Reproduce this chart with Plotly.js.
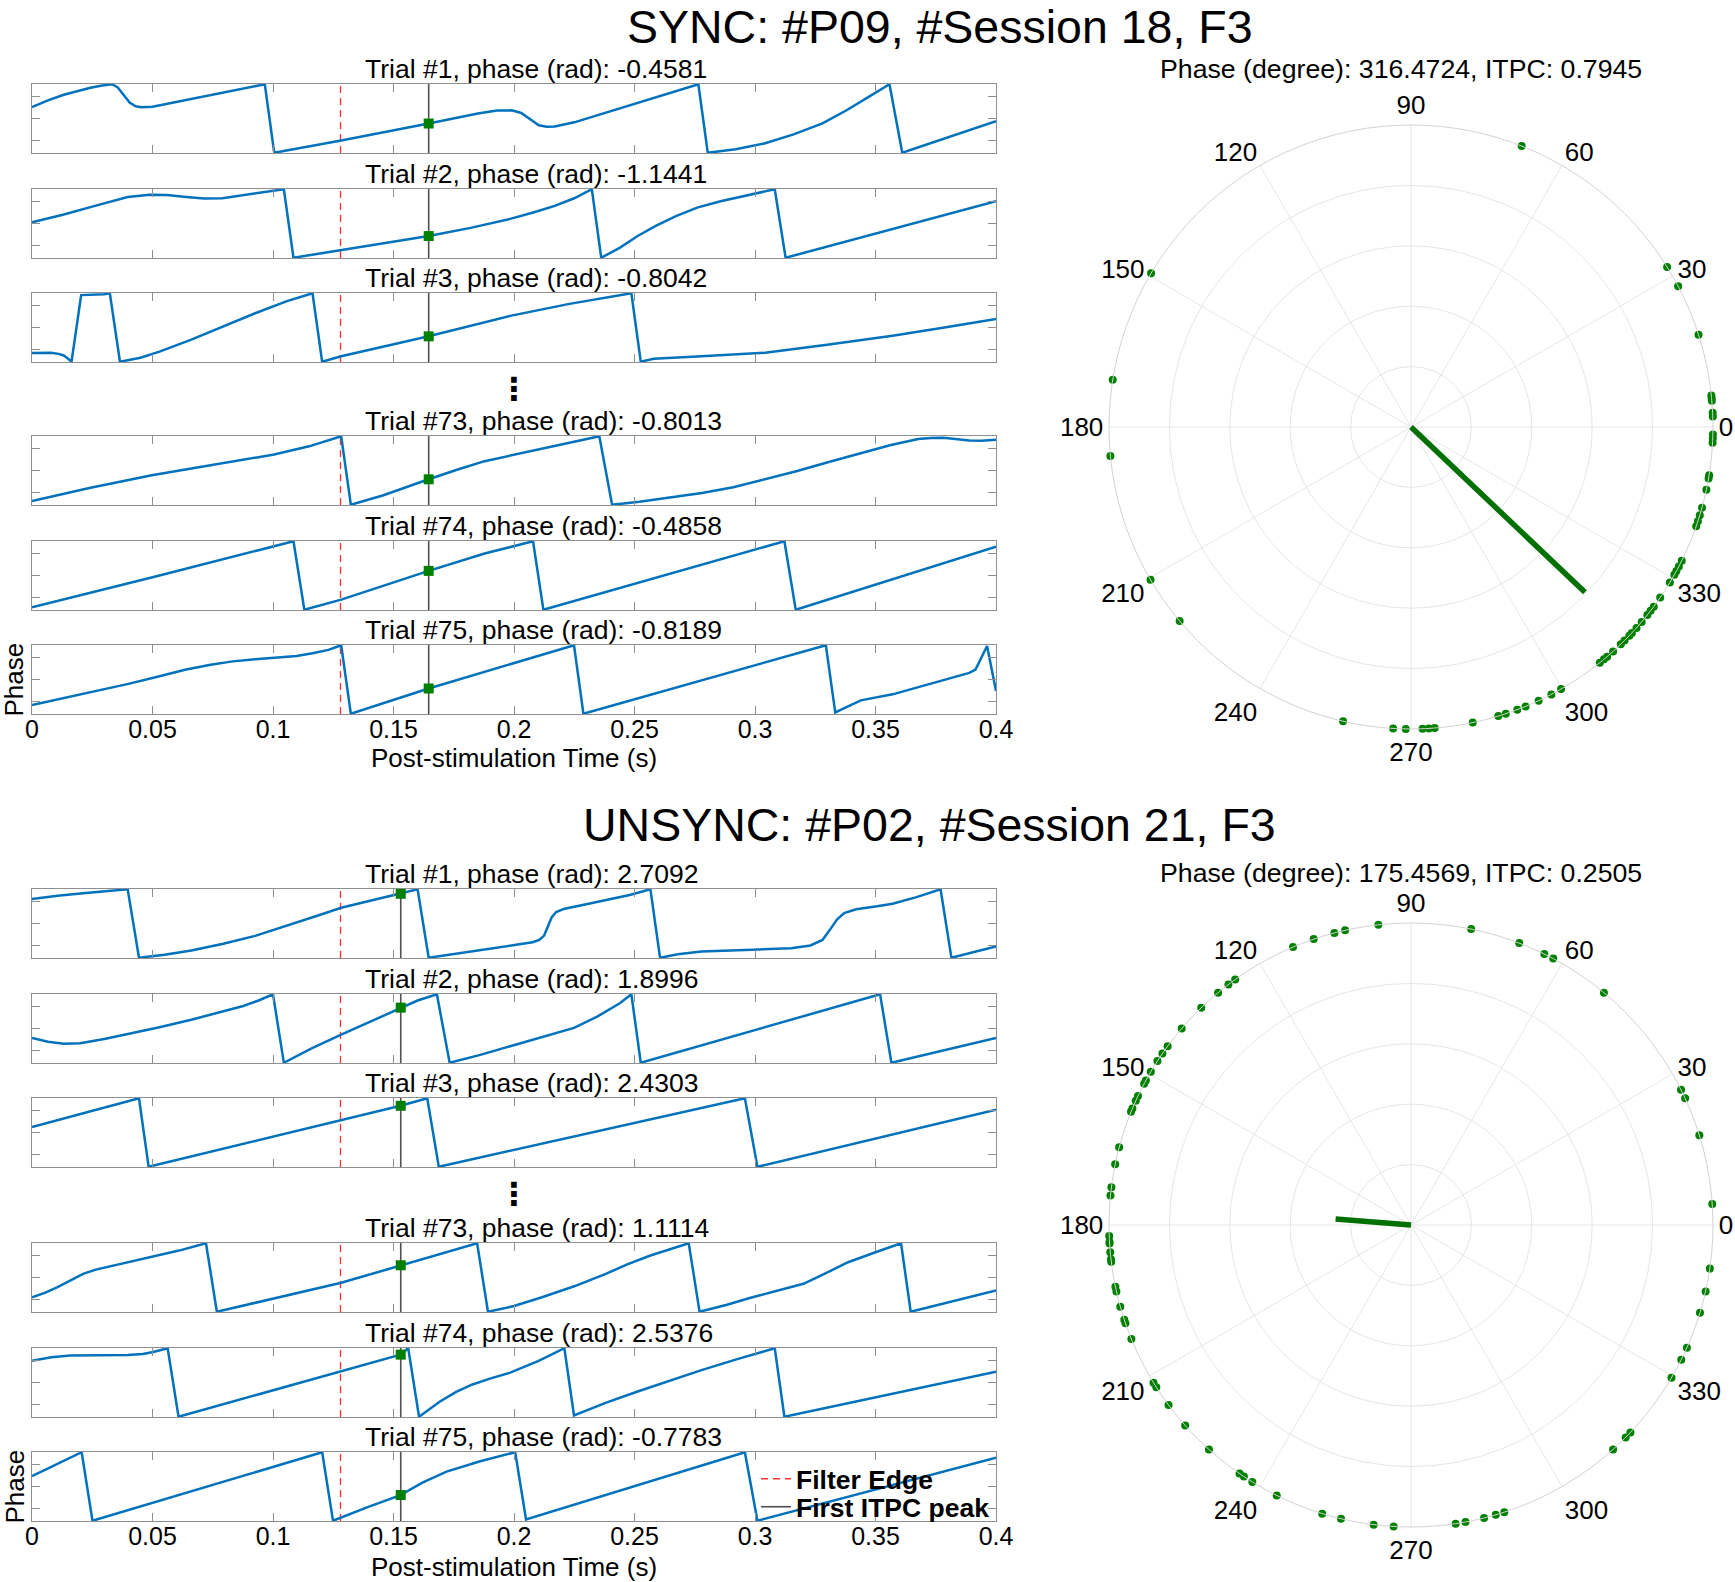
<!DOCTYPE html>
<html><head><meta charset="utf-8">
<script src="https://cdn.plot.ly/plotly-3.0.1.min.js"></script>
<style>html,body{margin:0;padding:0;background:#fff}#chart{width:1735px;height:1582px}</style>
</head><body><div id="chart"></div>
<script>
// ================= DATA =================
const sectionTitles = ["SYNC: #P09, #Session 18, F3", "UNSYNC: #P02, #Session 21, F3"];
const trialNumbers = ["1", "2", "3", "73", "74", "75"];
const syncTitlePhases = ["-0.4581", "-1.1441", "-0.8042", "-0.8013", "-0.4858", "-0.8189"];
const unsyncTitlePhases = ["2.7092", "1.8996", "2.4303", "1.1114", "2.5376", "-0.7783"];
const syncPolarTitle = "Phase (degree): 316.4724, ITPC: 0.7945";
const unsyncPolarTitle = "Phase (degree): 175.4569, ITPC: 0.2505";
const xAxisTitle = "Post-stimulation Time (s)";
const yAxisTitle = "Phase";
const legendNames = ["Filter Edge", "First ITPC peak"];

const syncFilterEdge = 0.128, syncItpcPeak = 0.1646;
const unsyncFilterEdge = 0.128, unsyncItpcPeak = 0.153;
const syncMarkerPhase = [-0.4581, -1.1441, -0.8042, -0.8013, 0.42, -0.8189];
const unsyncMarkerPhase = [2.7092, 1.8996, 2.4303, 1.1114, 2.5376, -0.7783];

// SYNC trials (time s, phase rad)
const sync1_t = [0, 0.0066, 0.0132, 0.019, 0.0238, 0.0285, 0.0331, 0.0355, 0.038, 0.0405, 0.043, 0.0455, 0.05, 0.0966, 0.1005, 0.1283, 0.1646, 0.185, 0.193, 0.199, 0.203, 0.207, 0.2103, 0.2135, 0.2169, 0.225, 0.2513, 0.2765, 0.2804, 0.292, 0.3042, 0.316, 0.328, 0.338, 0.347, 0.3558, 0.3611, 0.4];
const sync1_p = [1.03, 1.65, 2.16, 2.52, 2.78, 2.98, 3.12, 2.85, 2.2, 1.45, 1.12, 1.03, 1.08, 3.12, -3.12, -2.01, -0.46, 0.45, 0.72, 0.74, 0.5, -0.1, -0.62, -0.76, -0.72, -0.35, 1.41, 3.12, -3.12, -2.8, -2.25, -1.45, -0.45, 0.75, 1.95, 3.12, -3.12, -0.25];
const sync2_t = [0, 0.0132, 0.0265, 0.0397, 0.0489, 0.056, 0.064, 0.0714, 0.079, 0.0873, 0.096, 0.1045, 0.1085, 0.1283, 0.146, 0.1646, 0.182, 0.1984, 0.208, 0.2169, 0.225, 0.2323, 0.2362, 0.244, 0.2513, 0.259, 0.2672, 0.276, 0.2857, 0.297, 0.3082, 0.3127, 0.4];
const sync2_p = [0.12, 0.82, 1.63, 2.42, 2.62, 2.6, 2.42, 2.27, 2.3, 2.55, 2.85, 3.12, -3.12, -2.42, -1.85, -1.14, -0.4, 0.42, 1.0, 1.6, 2.3, 3.12, -3.12, -2.2, -1.14, -0.2, 0.67, 1.45, 2.02, 2.6, 3.12, -3.12, 2.02];
const sync3_t = [0, 0.004, 0.0079, 0.011, 0.0132, 0.015, 0.0164, 0.0204, 0.0265, 0.03, 0.0323, 0.0365, 0.045, 0.0529, 0.0661, 0.0794, 0.0926, 0.1058, 0.1164, 0.1204, 0.1283, 0.1646, 0.1984, 0.223, 0.2487, 0.2526, 0.258, 0.2778, 0.3042, 0.3307, 0.3571, 0.3786, 0.4];
const sync3_p = [-2.32, -2.28, -2.3, -2.4, -2.55, -2.85, -3.12, 2.95, 3.0, 3.02, 3.12, -3.12, -2.75, -2.2, -1.1, 0.1, 1.3, 2.4, 3.12, -3.12, -2.62, -0.8, 1.06, 2.15, 3.12, -3.12, -2.85, -2.62, -2.3, -1.55, -0.75, 0.0, 0.78];
const sync4_t = [0, 0.0238, 0.0497, 0.0767, 0.1, 0.115, 0.1283, 0.1323, 0.1455, 0.1646, 0.176, 0.1878, 0.2, 0.2116, 0.2235, 0.2354, 0.2407, 0.252, 0.2646, 0.278, 0.291, 0.304, 0.3175, 0.331, 0.3439, 0.356, 0.3677, 0.373, 0.3783, 0.384, 0.3889, 0.394, 0.4];
const sync4_p = [-2.79, -1.6, -0.43, 0.6, 1.44, 2.2, 3.12, -3.12, -2.28, -0.8, 0.05, 0.85, 1.45, 1.98, 2.55, 3.12, -3.12, -2.85, -2.49, -2.05, -1.53, -0.8, -0.04, 0.8, 1.59, 2.3, 2.87, 2.97, 2.99, 2.85, 2.73, 2.72, 2.79];
const sync5_t = [0, 0.0529, 0.1085, 0.113, 0.1283, 0.1646, 0.1878, 0.2079, 0.2122, 0.2619, 0.3122, 0.3169, 0.4];
const sync5_p = [-2.9, 0.0, 3.12, -3.12, -2.2, 0.42, 2.0, 3.12, -3.12, 0.0, 3.12, -3.12, 2.62];
const sync6_t = [0, 0.0265, 0.04, 0.0529, 0.0635, 0.0741, 0.0833, 0.0926, 0.1032, 0.1098, 0.1164, 0.123, 0.1283, 0.1323, 0.1646, 0.2249, 0.2288, 0.3294, 0.3333, 0.3439, 0.3571, 0.3677, 0.3783, 0.3889, 0.3915, 0.3963, 0.4];
const sync6_p = [-2.33, -1.05, -0.4, 0.3, 0.88, 1.35, 1.65, 1.85, 2.03, 2.15, 2.39, 2.7, 3.12, -3.12, -0.82, 3.12, -3.12, 3.12, -3.0, -1.9, -1.35, -0.7, 0.0, 0.6, 0.9, 3.05, -1.05];

// UNSYNC trials
const unsync1_t = [0, 0.0106, 0.0212, 0.03, 0.0397, 0.0444, 0.055, 0.0661, 0.0794, 0.0926, 0.106, 0.119, 0.1283, 0.137, 0.1455, 0.1529, 0.16, 0.1646, 0.1852, 0.2077, 0.2105, 0.2125, 0.214, 0.2156, 0.2175, 0.221, 0.229, 0.2381, 0.248, 0.2566, 0.2606, 0.268, 0.2778, 0.2989, 0.315, 0.323, 0.328, 0.331, 0.334, 0.337, 0.342, 0.35, 0.3571, 0.367, 0.377, 0.3815, 0.4];
const unsync1_p = [2.22, 2.52, 2.75, 2.95, 3.12, -3.12, -2.85, -2.45, -1.85, -1.13, -0.2, 0.75, 1.43, 1.9, 2.3, 2.71, 3.12, -3.12, -2.45, -1.71, -1.5, -1.1, -0.3, 0.55, 1.05, 1.35, 1.7, 2.1, 2.6, 3.12, -3.12, -2.8, -2.55, -2.38, -2.25, -2.0, -1.5, -0.6, 0.35, 0.95, 1.3, 1.55, 1.8, 2.4, 3.12, -3.12, -2.08];
const unsync2_t = [0, 0.0066, 0.0132, 0.02, 0.03, 0.0397, 0.0529, 0.0661, 0.078, 0.0873, 0.094, 0.1, 0.1045, 0.116, 0.1283, 0.1529, 0.16, 0.168, 0.1733, 0.186, 0.1984, 0.216, 0.2249, 0.2347, 0.2439, 0.2487, 0.2526, 0.3519, 0.3566, 0.4];
const unsync2_p = [-0.87, -1.2, -1.38, -1.35, -0.95, -0.5, 0.12, 0.8, 1.45, 2.02, 2.55, 3.12, -3.12, -1.8, -0.56, 1.9, 2.55, 3.12, -3.12, -2.4, -1.63, -0.55, 0.06, 1.1, 2.3, 3.12, -3.12, 3.12, -3.12, -0.87];
const unsync3_t = [0, 0.0444, 0.0484, 0.1529, 0.164, 0.1688, 0.2958, 0.301, 0.4];
const unsync3_p = [0.49, 3.12, -3.12, 2.43, 3.12, -3.12, 3.12, -3.12, 2.08];
const unsync4_t = [0, 0.0053, 0.0106, 0.0159, 0.0212, 0.0265, 0.0317, 0.041, 0.0503, 0.061, 0.0722, 0.0767, 0.1283, 0.1529, 0.1847, 0.1892, 0.2, 0.2116, 0.225, 0.2381, 0.247, 0.2566, 0.265, 0.2725, 0.277, 0.288, 0.2989, 0.3095, 0.3201, 0.329, 0.3386, 0.35, 0.3606, 0.3646, 0.4];
const unsync4_p = [-1.8, -1.4, -0.88, -0.25, 0.33, 0.72, 0.99, 1.45, 1.89, 2.45, 3.12, -3.12, -0.48, 1.11, 3.12, -3.12, -2.6, -1.8, -0.8, 0.33, 1.2, 2.0, 2.6, 3.12, -3.12, -2.5, -1.8, -1.2, -0.57, 0.35, 1.39, 2.3, 3.12, -3.12, -1.18];
const unsync5_t = [0, 0.008, 0.0159, 0.0265, 0.0397, 0.046, 0.0503, 0.0563, 0.0608, 0.1529, 0.1561, 0.1606, 0.165, 0.1693, 0.176, 0.1825, 0.19, 0.1984, 0.21, 0.2209, 0.2249, 0.238, 0.2513, 0.2778, 0.293, 0.3082, 0.3122, 0.4];
const unsync5_p = [1.97, 2.3, 2.46, 2.5, 2.5, 2.6, 2.78, 3.12, -3.12, 2.54, 3.12, -3.12, -2.45, -1.73, -0.85, -0.2, 0.35, 0.9, 1.95, 3.12, -3.0, -1.85, -0.82, 1.13, 2.15, 3.12, -3.12, 0.98];
const unsync6_t = [0, 0.0206, 0.0251, 0.1204, 0.1249, 0.139, 0.1529, 0.162, 0.172, 0.186, 0.2005, 0.205, 0.2958, 0.301, 0.4];
const unsync6_p = [0.95, 3.12, -3.12, 3.12, -3.12, -1.9, -0.78, 0.35, 1.35, 2.3, 3.12, -3.0, 3.12, -3.12, 2.63];

// Polar: per-trial phases (degrees), unit length
const syncAngles = [68.5, 32, 27.8, 17.8, 6, 5.5, 5, 2.7, 2, 358.6, 357.8, 357, 350.8, 350.2, 348, 344.5, 343, 341.8, 340.8,
  333.7, 332.5, 331.5, 330.7, 329, 325.6, 323.5, 322.5, 321.5, 319.8, 318.3, 317, 316.3, 315, 314, 312, 310.5, 309.7, 308.7,
  299.8, 297.7, 295, 292.3, 290.6, 288.3, 286.8, 281.8, 274.5, 273.4, 272.2, 269, 266.6, 257, 220, 210.4, 185.5, 171, 149.4];
const syncMeanPhase = 316.4724, syncITPC = 0.7945;
const unsyncAngles = [96.2, 78.5, 69, 63.8, 61.9, 50.3, 26.6, 24.8, 17.3, 4, 351.7, 347.3, 343.1, 336, 333.5, 329.6, 316.6, 315.3, 312,
  288, 286.3, 284, 280.4, 278.5, 266.7, 262.9, 256.6, 252.9, 243.6, 238.3, 236.4, 235.4, 228, 221.6, 216.6, 212.5, 211.5,
  202.2, 199, 198.3, 195.7, 192.7, 191.8, 187, 186.5, 185.2, 183.5, 183.2, 182.1, 174.4, 172.8, 168.4, 165.1, 158, 157.3,
  155.7, 154.7, 152.1, 151.4, 149.5, 147.1, 145.4, 143.7, 139.4, 134, 129.7, 127.2, 125.6, 113, 108.8, 104.7, 102.6];
const unsyncMeanPhase = 175.4569, unsyncITPC = 0.2505;

const xTickVals = [0, 0.05, 0.1, 0.15, 0.2, 0.25, 0.3, 0.35, 0.4];
const yTickVals = [-2, 0, 2];
const angularTickVals = [0, 30, 60, 90, 120, 150, 180, 210, 240, 270, 300, 330];
const radialGridVals = [0.2, 0.4, 0.6, 0.8, 1.0];

// ================= LAYOUT GEOMETRY =================
const W = 1735, H = 1582;
const FONT = 'Liberation Sans, Arial, Helvetica, sans-serif';
const px = x => x / W;
const py = y => 1 - y / H;
const axisLeft = 32, axisRight = 996;
const subTitleLeft = 363;
const rowTopPx = [[84, 189, 293, 436, 541, 645], [889, 994, 1098, 1243, 1348, 1452]];
const rowHeightPx = 69;
const polarCenterPx = [[1411, 427], [1411, 1225]];
const polarRadiusPx = 302;
const BLUE = '#0072BD', GREEN = '#008000', BOXC = '#8f8f8f';

const sections = [
  { title: sectionTitles[0], titlePos: [940, 26.5], traces: [[sync1_t, sync1_p], [sync2_t, sync2_p], [sync3_t, sync3_p], [sync4_t, sync4_p], [sync5_t, sync5_p], [sync6_t, sync6_p]],
    phases: syncTitlePhases, markers: syncMarkerPhase, edge: syncFilterEdge, peak: syncItpcPeak,
    angles: syncAngles, mean: syncMeanPhase, itpc: syncITPC, polarTitle: syncPolarTitle, polarTitleY: 69, xTitleY: 758, dotsY: 389 },
  { title: sectionTitles[1], titlePos: [930, 825], traces: [[unsync1_t, unsync1_p], [unsync2_t, unsync2_p], [unsync3_t, unsync3_p], [unsync4_t, unsync4_p], [unsync5_t, unsync5_p], [unsync6_t, unsync6_p]],
    phases: unsyncTitlePhases, markers: unsyncMarkerPhase, edge: unsyncFilterEdge, peak: unsyncItpcPeak,
    angles: unsyncAngles, mean: unsyncMeanPhase, itpc: unsyncITPC, polarTitle: unsyncPolarTitle, polarTitleY: 873, xTitleY: 1567, dotsY: 1194 }
];

const data = [];
const annotations = [];
const legendFont = { family: FONT, size: 26.5, color: '#000', weight: 'bold' };
const layout = {
  width: W, height: H, autosize: false,
  margin: { l: 0, r: 0, t: 0, b: 0, pad: 0 },
  paper_bgcolor: '#fff', plot_bgcolor: '#fff',
  font: { family: FONT, color: '#000' },
  showlegend: true,
  legend: { x: px(756), y: py(1479), xanchor: 'left', yanchor: 'middle', bgcolor: 'rgba(0,0,0,0)', borderwidth: 0,
            font: legendFont, itemwidth: 30, tracegroupgap: 0 },
  legend2: { x: px(756), y: py(1507), xanchor: 'left', yanchor: 'middle', bgcolor: 'rgba(0,0,0,0)', borderwidth: 0,
            font: legendFont, itemwidth: 30, tracegroupgap: 0 },
  hovermode: false
};

const txt = (text, x, y, size, extra) => Object.assign({
  text, x: px(x), y: py(y), xref: 'paper', yref: 'paper', showarrow: false,
  xanchor: 'center', yanchor: 'middle', font: { family: FONT, size, color: '#000' }
}, extra || {});

sections.forEach((sec, s) => {
  annotations.push(txt(sec.title, sec.titlePos[0], sec.titlePos[1], 46.5));
  sec.traces.forEach((tr, r) => {
    const k = s * 6 + r + 1;
    const xa = 'x' + k, ya = 'y' + k;
    const xname = 'xaxis' + (k === 1 ? '' : k), yname = 'yaxis' + (k === 1 ? '' : k);
    const top = rowTopPx[s][r], bot = top + rowHeightPx;
    const last = r === 5;
    layout[xname] = {
      domain: [px(axisLeft), px(axisRight)], anchor: ya, range: [0, 0.4], tickmode: 'array', tickvals: xTickVals,
      ticks: 'inside', ticklen: 8, tickcolor: BOXC, tickwidth: 1, showline: true, linecolor: BOXC, linewidth: 1.2, mirror: 'ticks',
      showgrid: false, zeroline: false, showticklabels: last, ticklabelstandoff: -7,
      tickfont: { family: FONT, size: 25, color: '#000' }, fixedrange: true
    };
    layout[yname] = {
      domain: [py(bot), py(top)], anchor: xa, range: [-Math.PI, Math.PI], tickmode: 'array', tickvals: yTickVals,
      ticks: 'inside', ticklen: 8, tickcolor: BOXC, tickwidth: 1, showline: true, linecolor: BOXC, linewidth: 1.2, mirror: 'ticks',
      showgrid: false, zeroline: false, showticklabels: false, fixedrange: true
    };
    const isLegend = (s === 1 && last);
    data.push({ type: 'scatter', mode: 'lines', x: [sec.edge, sec.edge], y: [-Math.PI, Math.PI], xaxis: xa, yaxis: ya,
      line: { color: '#ff3030', width: 1.3, dash: '7px,5px' }, name: legendNames[0], showlegend: isLegend, legend: 'legend', hoverinfo: 'skip' });
    data.push({ type: 'scatter', mode: 'lines', x: [sec.peak, sec.peak], y: [-Math.PI, Math.PI], xaxis: xa, yaxis: ya,
      line: { color: '#505050', width: 1.6 }, name: legendNames[1], showlegend: isLegend, legend: 'legend2', hoverinfo: 'skip' });
    data.push({ type: 'scatter', mode: 'lines', x: tr[0], y: tr[1], xaxis: xa, yaxis: ya,
      line: { color: BLUE, width: 2.5 }, showlegend: false, hoverinfo: 'skip' });
    data.push({ type: 'scatter', mode: 'markers', x: [sec.peak], y: [sec.markers[r]], xaxis: xa, yaxis: ya,
      marker: { symbol: 'square', size: 10, color: GREEN, line: { width: 0 } }, showlegend: false, hoverinfo: 'skip' });
    annotations.push(txt(`Trial #${trialNumbers[r]}, phase (rad): ${sec.phases[r]}`, subTitleLeft, top + 2, 26.5, { xanchor: 'left', yanchor: 'bottom' }));
  });
  annotations.push(txt(xAxisTitle, (axisLeft + axisRight) / 2, sec.xTitleY, 26));
  annotations.push(txt(yAxisTitle, 14, rowTopPx[s][5] + rowHeightPx / 2, 26, { textangle: -90 }));
  annotations.push(txt('⋮', 514, sec.dotsY, 32, { font: { family: 'DejaVu Sans', size: 32, color: '#000', weight: 'bold' } }));

  // polar
  const pname = s === 0 ? 'polar' : 'polar2';
  const [cx, cy] = polarCenterPx[s];
  const R = polarRadiusPx;
  layout[pname] = {
    domain: { x: [px(cx - R), px(cx + R)], y: [py(cy + R), py(cy - R)] },
    bgcolor: '#fff',
    angularaxis: { rotation: 0, direction: 'counterclockwise', tickmode: 'array', tickvals: angularTickVals,
      ticktext: angularTickVals.map(String), tickfont: { family: FONT, size: 26, color: '#000' },
      showline: true, linecolor: '#d2d2d2', linewidth: 1, gridcolor: '#e6e6e6', ticks: '' },
    radialaxis: { range: [0, 1], tickmode: 'array', tickvals: radialGridVals, showticklabels: false, ticks: '',
      showline: false, gridcolor: '#e6e6e6' }
  };
  data.push({ type: 'scatterpolar', subplot: pname, mode: 'markers', theta: sec.angles, r: sec.angles.map(() => 1),
    marker: { color: GREEN, size: 8, line: { width: 0 } }, cliponaxis: false, showlegend: false, hoverinfo: 'skip' });
  data.push({ type: 'scatterpolar', subplot: pname, mode: 'lines', theta: [sec.mean, sec.mean], r: [0, sec.itpc],
    line: { color: '#007000', width: 5.5 }, showlegend: false, hoverinfo: 'skip' });
  annotations.push(txt(sec.polarTitle, 1158, sec.polarTitleY, 26.7, { xanchor: 'left' }));
});

layout.annotations = annotations;
Plotly.newPlot('chart', data, layout, { staticPlot: true, displayModeBar: false });
</script>
</body></html>
